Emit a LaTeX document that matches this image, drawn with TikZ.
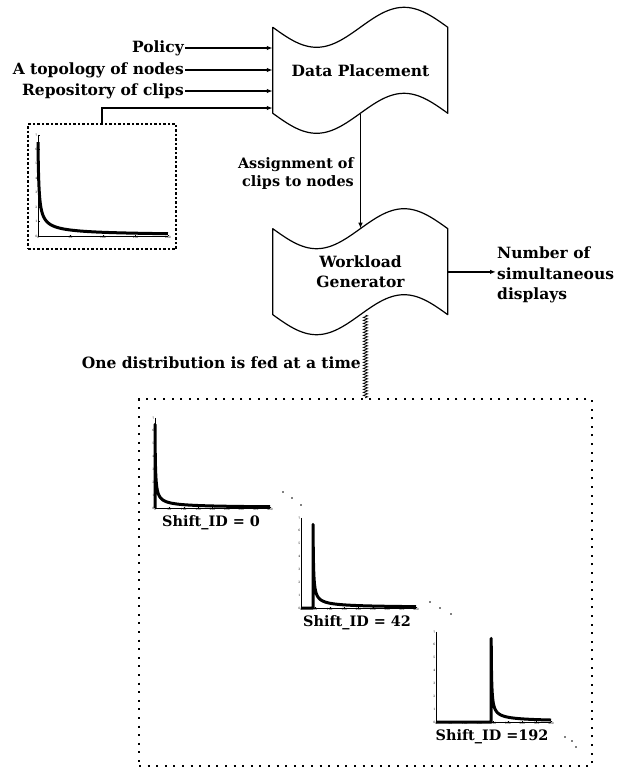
\documentclass[tikz,border=0pt]{standalone}
\usepackage{fontspec}
\setmainfont{DejaVu Serif}
\usepackage{tikz}
\usetikzlibrary{positioning,arrows.meta,decorations.pathmorphing}

\begin{document}
\begin{tikzpicture}[
  x=1pt, y=-1pt,
  font=\fontsize{15.5}{20}\selectfont\bfseries,
  wavebox/.style={minimum width=175pt,minimum height=86pt,align=center,inner sep=0pt},
  lbl/.style={inner sep=1pt},
  small/.style={font=\fontsize{14.4}{18}\selectfont\bfseries},
  arrow/.style={-{Latex[length=6pt,width=4.5pt]},line width=1.2pt},
  edge/.style={line width=1.2pt,line join=round},
  plotbox/.style={draw,line width=1.2pt,dash pattern=on 2.5pt off 2pt,
    minimum width=148pt,minimum height=125pt,inner sep=0pt},
  bigbox/.style={draw,line width=2pt,dash pattern=on 2pt off 6.6pt,
    minimum width=453pt,minimum height=367pt,inner sep=0pt},
  feedline/.style={decorate,decoration={zigzag,segment length=3pt,amplitude=2.2pt},
    line width=0.7pt},
  tick/.style={font=\fontsize{3}{3}\selectfont\mdseries,inner sep=0.4pt},
  curve/.style={line width=3pt,line join=round}
]
\useasboundingbox (0,0) rectangle (618,774);

% the two processing stages
\node[wavebox] (placement) at (360.5,70.5) {Data Placement};
\node[wavebox,below=115pt of placement] (workload) {Workload\\Generator};
\foreach \n in {placement,workload}{
  \begin{scope}[shift={(\n.north west)}]
    \draw[edge] plot[domain=0:175,samples=60] (\x,{20*sin(\x/175*360)})
      -- plot[domain=175:0,samples=60] (\x,{86+20*sin(\x/175*360)}) -- cycle;
  \end{scope}
}

% inputs
\node[lbl,anchor=east] (policy) at (185,48) {Policy};
\node[lbl,anchor=east] (topology) at (185,70) {A topology of nodes};
\node[lbl,anchor=east] (repository) at (185,91) {Repository of clips};
\foreach \src in {policy,topology,repository}
  \draw[arrow] (\src.east) -- (\src.east -| placement.west);

% popularity distribution
\node[plotbox] (zipfbox) at (102,186.5) {};
\begin{scope}[shift={(38,236)},x=0.65pt,y=14.43pt]
  \draw[line width=0.4pt] (0,7) -- (0,0) -- (200,0);
  \foreach \t in {0,50,...,200}{
    \draw[line width=0.3pt] (\t,0) -- (\t,0.1);
    \node[tick,below] at (\t,0) {\t};
  }
  \foreach \t in {0,...,7}{
    \draw[line width=0.3pt] (0,\t) -- (2.5,\t);
    \node[tick,left] at (0,\t) {\t};
  }
  \draw[curve] plot[domain=0:{sqrt(200)},samples=60] ({\x*\x},{6.5/(1+\x*\x)^0.7});
\end{scope}
\draw[arrow] (zipfbox.north) |- ([yshift=-37.5pt]placement.west);

% assignment and output
\draw[arrow] (placement.south) -- (workload.north);
\node[lbl,small,align=right,anchor=east] (assignment) at (355,174)
  {Assignment of\\clips to nodes};
\node[lbl,align=left,anchor=west] (displays) at (496,275)
  {Number of\\[1pt]simultaneous\\displays};
\draw[arrow] (workload.east) -- (workload.east -| displays.west);

% shifted distributions
\node[bigbox] (shiftbox) at (365.5,582.5) {};
\node[lbl,anchor=east] (fed) at (362,363) {One distribution is fed at a time};
\draw[feedline] (shiftbox.north |- workload.south) -- (shiftbox.north);

\foreach \ox/\oy/\s/\name/\txt in {155/508/0/shiftA/{Shift\_ID = 0},
    301/608/42/shiftB/{Shift\_ID = 42},436/722/192/shiftC/{Shift\_ID =192}}{
  \begin{scope}[shift={(\ox,\oy)},x=0.2875pt,y=12.86pt]
    \draw[line width=0.4pt] (0,7) -- (0,0) -- (400,0);
    \foreach \t in {0,50,...,400}{
      \draw[line width=0.3pt] (\t,0) -- (\t,0.1);
      \node[tick,below] at (\t,0) {\t};
    }
    \foreach \t in {0,...,7}{
      \draw[line width=0.3pt] (0,\t) -- (5,\t);
      \node[tick,left] at (0,\t) {\t};
    }
    \draw[curve] (0,0) -- (\s,0) -- plot[domain=0:{sqrt(400-\s)},samples=60]
      ({\s+\x*\x},{6.5/(1+\x*\x)^0.7});
    \node[lbl,small] (\name) at (195,-1.15) {\txt};
  \end{scope}
}
\foreach \dx/\dy in {283/492,292/498,301/505,430/602,440/608,451/614,565/737,572/741,576/747}
  \fill (\dx,\dy) circle (0.9pt);
\end{tikzpicture}
\end{document}
